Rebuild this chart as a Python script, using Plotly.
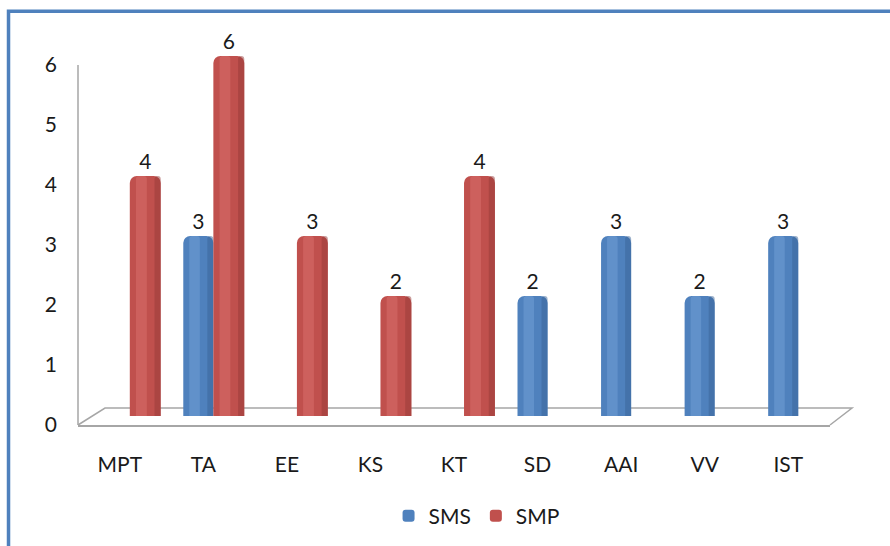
import plotly.graph_objects as go

categories = ["MPT", "TA", "EE", "KS", "KT", "SD", "AAI", "VV", "IST"]
sms = [None, 3, None, None, None, 2, 3, 2, 3]
smp = [4, 6, 3, 2, 4, None, None, None, None]
yticks = [0, 1, 2, 3, 4, 5, 6]

font = "Lato, 'Open Sans', sans-serif"

# base colour, highlight, dark edge
blue = ("#4F81BD", "#6A98D0", "#3A6497")
red = ("#C0504D", "#D36764", "#953A37")

fig = go.Figure()


def cylinder(name, vals, cols, off, w):
    # main body
    fig.add_trace(go.Bar(
        x=categories, y=vals, name=name, offset=off, width=w,
        marker=dict(color=cols[0], line=dict(width=0), cornerradius=7),
        texttemplate="%{y}", textposition="outside", cliponaxis=False,
        textfont=dict(family=font, size=21, color="#1a1a1a"),
    ))
    # light stripe
    fig.add_trace(go.Bar(
        x=categories, y=vals, offset=off + w * 0.2, width=w * 0.35,
        marker=dict(color=cols[1], opacity=0.7, line=dict(width=0), cornerradius=3),
        showlegend=False, hoverinfo="skip",
    ))
    # dark right edge
    fig.add_trace(go.Bar(
        x=categories, y=vals, offset=off + w * 0.8, width=w * 0.2,
        marker=dict(color=cols[2], opacity=0.5, line=dict(width=0), cornerradius=3),
        showlegend=False, hoverinfo="skip",
    ))


cylinder("SMS", sms, blue, -0.24, 0.36)
cylinder("SMP", smp, red, 0.12, 0.37)

# 3d floor behind the bars
fig.add_shape(type="path", xref="paper", yref="paper",
              path="M 0,0 L 0.0359,0.0447 L 1.0293,0.0447 L 1,0",
              line=dict(color="#A6A6A6", width=1.5), layer="below")
# value axis line, only up to the top tick
fig.add_shape(type="line", xref="paper", yref="y2", x0=0, x1=0, y0=0, y1=yticks[-1],
              line=dict(color="#A6A6A6", width=1.5), layer="below")

# blue outer frame
fig.add_shape(type="rect", xref="paper", yref="paper",
              x0=-0.0924, y0=-0.7, x1=1.2, y1=1.089,
              line=dict(color="#4F81BD", width=3.5))

fig.update_layout(
    width=890, height=546,
    margin=dict(l=78, r=60, t=45, b=121, autoexpand=False),
    barmode="overlay",
    plot_bgcolor="white", paper_bgcolor="white",
    font=dict(family=font, size=21, color="#1a1a1a"),
    legend=dict(orientation="h", x=0.53, xanchor="center", y=-0.24, yanchor="middle",
                font=dict(size=21), itemwidth=30, tracegroupgap=0),
    showlegend=True,
    # bars stand on the back of the floor, so they sit a bit higher than the axis
    yaxis=dict(range=[-0.15, 6.183], visible=False, automargin=False),
    yaxis2=dict(overlaying="y", side="left", anchor="x", range=[0, 6.333],
                tickvals=yticks, showline=False, showgrid=False, zeroline=False,
                ticks="", ticklabelstandoff=20, automargin=False),
)
fig.update_xaxes(range=[-0.5, 8.5], showline=True, linecolor="#A6A6A6", linewidth=1.5,
                 ticks="", ticklabelstandoff=20, showgrid=False, automargin=False)

# page has a default body margin, drop it so the figure sits at 0,0
fig.write_html("out.html", config={"displayModeBar": False},
               post_script="document.body.style.margin='0';")
